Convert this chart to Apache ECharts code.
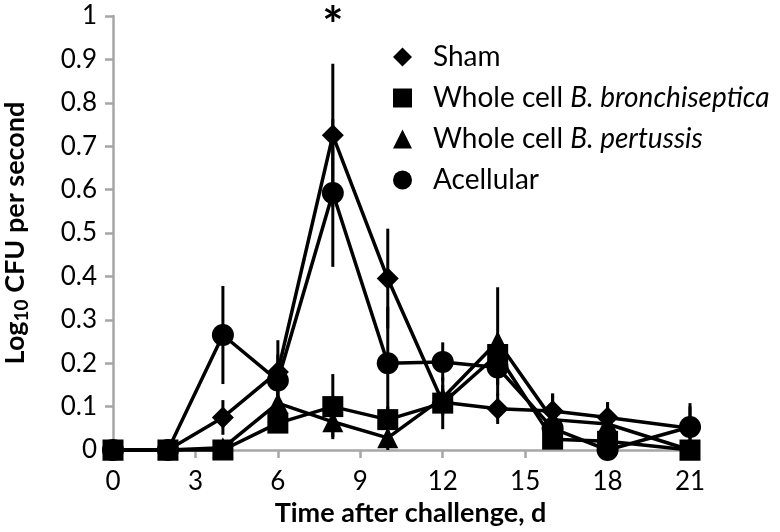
<!DOCTYPE html>
<html><head><meta charset="utf-8">
<script src="https://cdn.jsdelivr.net/npm/echarts@6/dist/echarts.min.js"></script>
<style>html,body{margin:0;padding:0;background:#fff}#c{width:780px;height:532px}</style>
</head><body><div id="c"></div>
<script>
const days = [0, 2, 4, 6, 8, 10, 12, 14, 16, 18, 21];
const xTicks = [0, 3, 6, 9, 12, 15, 18, 21];
const seriesNames = ['Sham', 'Whole cell B. bronchiseptica', 'Whole cell B. pertussis', 'Acellular'];
const sham      = [0, 0, 0.075, 0.18, 0.725, 0.395, 0.11, 0.095, 0.09, 0.075, 0.05];
const shamErr   = [0, 0, 0.04, 0.073, 0.165, 0.115, 0.03, 0.035, 0.04, 0.035, 0.05];
const bronch    = [0, 0, 0, 0.062, 0.10, 0.07, 0.108, 0.22, 0.025, 0.02, 0];
const bronchErr = [0, 0, 0, 0.02, 0.075, 0.03, 0.06, 0.04, 0.02, 0.02, 0];
const pert      = [0, 0, 0.005, 0.108, 0.065, 0.028, 0.12, 0.25, 0.07, 0.06, 0];
const pertErr   = [0, 0, 0.01, 0.03, 0.035, 0.03, 0.03, 0.125, 0.06, 0.05, 0];
const acell     = [0, 0, 0.265, 0.16, 0.592, 0.20, 0.203, 0.19, 0.05, 0, 0.053];
const acellErr  = [0, 0, 0.113, 0.06, 0.17, 0.13, 0.045, 0.04, 0.03, 0.02, 0.055];
const sigDay = 8;

const FONT = 'Lato, "Open Sans", sans-serif';
const values = [sham, bronch, pert, acell];
const errs = [shamErr, bronchErr, pertErr, acellErr];
const symbols = ['diamond', 'rect', 'triangle', 'circle'];
const symSizes = [22, 21, 21, 22];

const chart = echarts.init(document.getElementById('c'));
const series = [];
values.forEach((vals, k) => {
  series.push({
    type: 'custom',
    name: seriesNames[k] + ' err',
    z: 1,
    silent: true,
    data: days.map((d, i) => [d, vals[i], errs[k][i]]),
    renderItem: (params, api) => {
      const x = api.value(0), v = api.value(1), e = api.value(2);
      if (!e) return null;
      const p1 = api.coord([x, Math.min(1, v + e)]);
      const p2 = api.coord([x, Math.max(0, v - e)]);
      return { type: 'line', shape: { x1: p1[0], y1: p1[1], x2: p2[0], y2: p2[1] },
               style: { stroke: '#000', lineWidth: 3 } };
    }
  });
});
values.forEach((vals, k) => {
  const s = {
    type: 'line',
    name: seriesNames[k],
    z: 3,
    data: days.map((d, i) => [d, vals[i]]),
    symbol: symbols[k],
    symbolSize: symSizes[k],
    showAllSymbol: true,
    clip: false,
    lineStyle: { color: '#000', width: 3.5 },
    itemStyle: { color: '#000' },
    animation: false
  };
  if (k === 0) {
    s.markPoint = {
      symbol: 'circle', symbolSize: 0,
      data: [{ coord: [sigDay, 0.975] }],
      label: { show: true, formatter: '*', color: '#000', fontSize: 50, fontWeight: 'bold', fontFamily: FONT, position: 'inside' }
    };
  }
  series.push(s);
});

const legendMap = {
  'Sham': 'Sham',
  'Whole cell B. bronchiseptica': 'Whole cell {i|B. bronchiseptica}',
  'Whole cell B. pertussis': 'Whole cell {i|B. pertussis}',
  'Acellular': 'Acellular'
};

chart.setOption({
  animation: false,
  grid: { left: 113, top: 16, width: 577, height: 434, containLabel: false, outerBoundsMode: 'none' },
  legend: {
    orient: 'vertical', left: 388, top: 38, itemGap: 13, itemWidth: 19, itemHeight: 19,
    data: seriesNames.map((n, k) => ({ name: n, icon: symbols[k] })),
    formatter: n => legendMap[n],
    textStyle: { fontSize: 28, color: '#000', fontFamily: FONT, padding: [0, 0, 0, 16],
      rich: { i: { fontStyle: 'italic', fontSize: 28, color: '#000', fontFamily: FONT } } },
    itemStyle: { color: '#000' },
    selectedMode: false
  },
  xAxis: {
    type: 'value', min: 0, max: 21, interval: 3,
    name: 'Time after challenge, d', nameLocation: 'middle', nameGap: 42,
    nameTextStyle: { fontSize: 27, fontWeight: 'bold', color: '#000', fontFamily: FONT, padding: [0, 0, 0, 18] },
    axisLine: { show: true, onZero: false, lineStyle: { color: '#a6a6a6', width: 2.5 } },
    axisTick: { show: true, length: 8, lineStyle: { color: '#a6a6a6', width: 2.5 } },
    axisLabel: { fontSize: 26, color: '#000', fontFamily: FONT, margin: 19 },
    splitLine: { show: false }
  },
  yAxis: {
    type: 'value', min: 0, max: 1, interval: 0.1,
    name: 'Log{sub|10} CFU per second', nameLocation: 'middle', nameGap: 82, nameRotate: 90,
    nameTextStyle: { fontSize: 27, fontWeight: 'bold', color: '#000', fontFamily: FONT,
      rich: { sub: { fontSize: 19, fontWeight: 'bold', color: '#000', fontFamily: FONT, padding: [12, 0, 0, 0] } } },
    axisLine: { show: true, lineStyle: { color: '#a6a6a6', width: 2.5 } },
    axisTick: { show: true, length: 8, lineStyle: { color: '#a6a6a6', width: 2.5 } },
    axisLabel: { fontSize: 26, color: '#000', fontFamily: FONT, margin: 16 },
    splitLine: { show: false }
  },
  series: series
});
</script></body></html>
